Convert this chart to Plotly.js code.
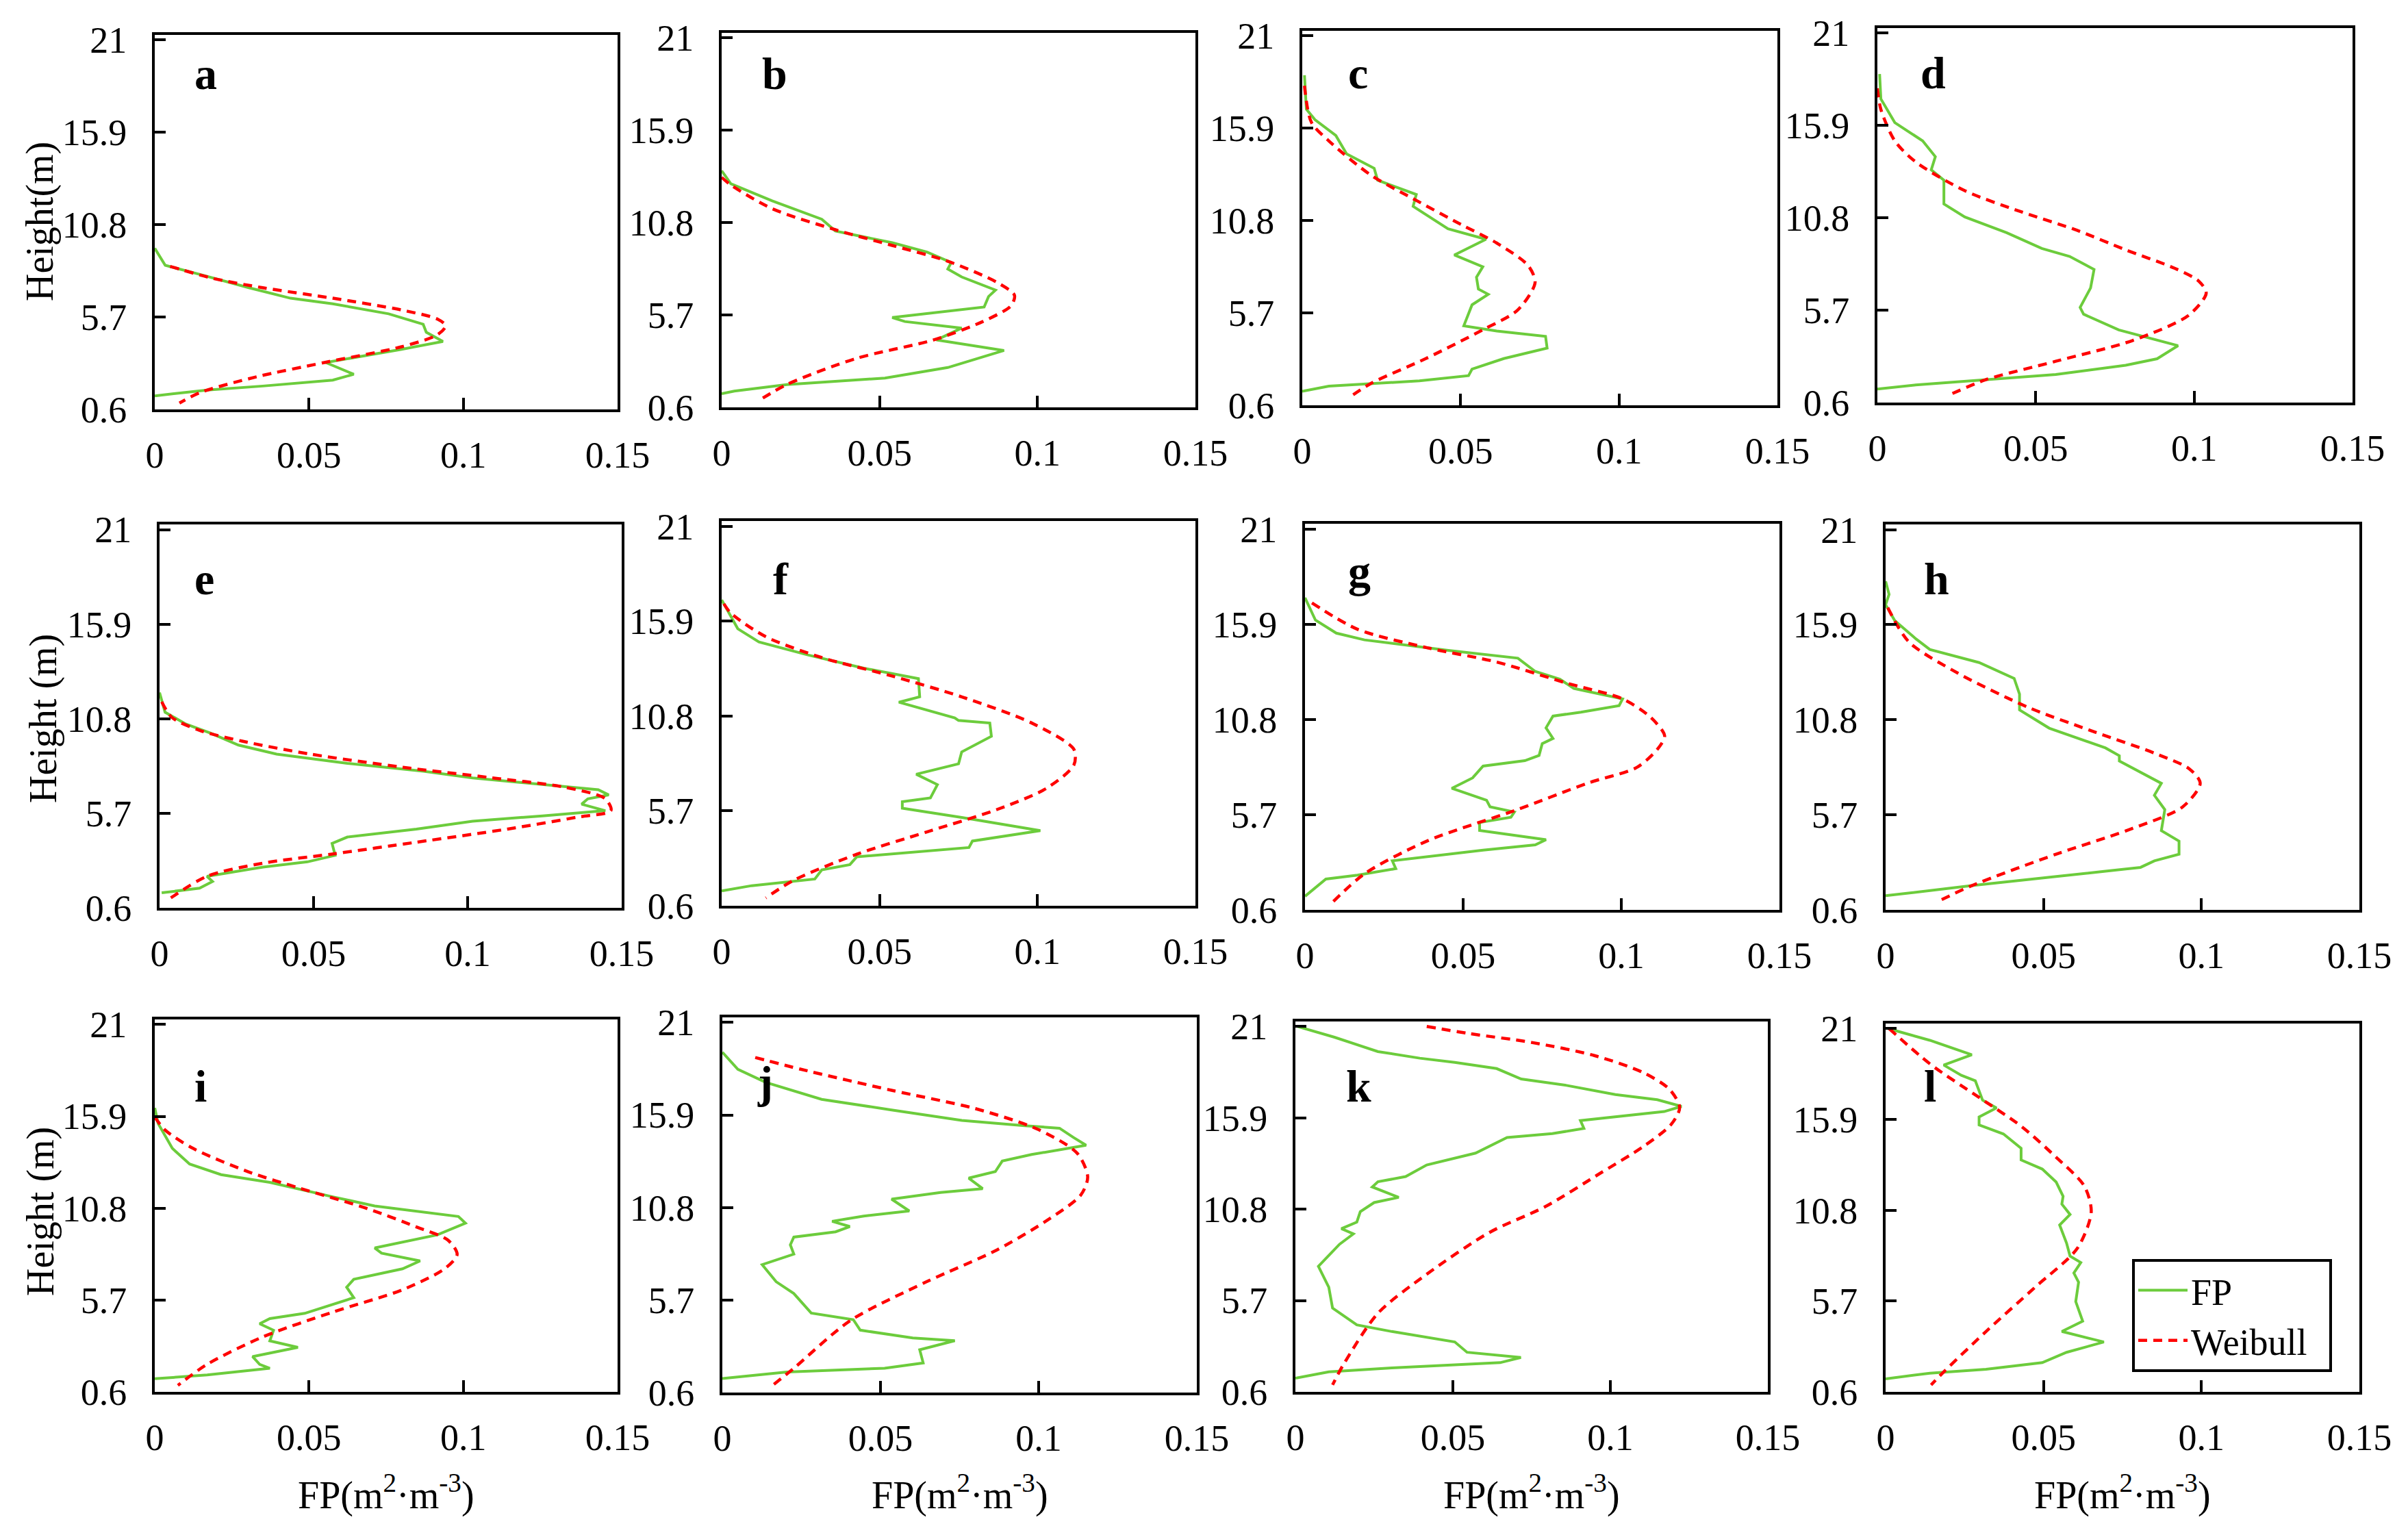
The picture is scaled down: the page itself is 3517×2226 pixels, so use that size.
<!DOCTYPE html>
<html>
<head>
<meta charset="utf-8">
<script src="https://cdn.plot.ly/plotly-3.0.1.min.js"></script>
<style>
  html, body { margin: 0; padding: 0; background: #fff; }
  #chart { width: 3517px; height: 2226px; }
</style>
</head>
<body>
<div id="chart"></div>
<script>
const heightTicks = [0.6, 5.7, 10.8, 15.9, 21];
const fpTicks = [0, 0.05, 0.1, 0.15];
const panelLetters = ["a", "b", "c", "d", "e", "f", "g", "h", "i", "j", "k", "l"];
const seriesNames = ["FP", "Weibull"];

// FP profiles (green) and Weibull fits (red), top to bottom
const fpA_x = [0, 0.0034, 0.0147, 0.0305, 0.044, 0.0577, 0.0758, 0.087, 0.088, 0.0934, 0.080, 0.0554, 0.0645, 0.0577, 0.035, 0.017, 0];
const fpA_y = [9.5, 8.56, 8.05, 7.32, 6.74, 6.43, 5.88, 5.3, 4.86, 4.35, 3.92, 3.19, 2.54, 2.22, 1.89, 1.67, 1.35];
const wbA_x = [0.005, 0.019, 0.035, 0.0577, 0.080, 0.0916, 0.0943, 0.0916, 0.080, 0.055, 0.033, 0.0147, 0.008];
const wbA_y = [8.5, 7.83, 7.32, 6.74, 6.09, 5.59, 5.22, 4.72, 4.06, 3.19, 2.4, 1.53, 0.95];

const fpB_x = [0, 0.0029, 0.016, 0.0317, 0.036, 0.054, 0.065, 0.0727, 0.0716, 0.076, 0.0867, 0.0845, 0.0831, 0.0716, 0.054, 0.058, 0.076, 0.068, 0.0894, 0.0716, 0.0517, 0.0206, 0.004, 0];
const fpB_y = [13.67, 12.95, 12.0, 10.99, 10.34, 9.69, 9.18, 8.6, 8.24, 7.8, 7.08, 6.72, 6.14, 5.92, 5.56, 5.34, 4.98, 4.32, 3.74, 2.8, 2.22, 1.86, 1.5, 1.35];
const wbB_x = [0, 0.0029, 0.016, 0.036, 0.054, 0.0716, 0.0871, 0.0927, 0.0916, 0.0827, 0.067, 0.0428, 0.0206, 0.0122];
const wbB_y = [13.3, 12.88, 11.57, 10.41, 9.54, 8.67, 7.51, 6.79, 6.21, 5.34, 4.32, 3.31, 1.86, 1.02];

const fpC_x = [0.0007, 0.0013, 0.004, 0.0106, 0.014, 0.0227, 0.0238, 0.036, 0.035, 0.046, 0.058, 0.048, 0.057, 0.055, 0.0556, 0.0587, 0.0536, 0.051, 0.0614, 0.0768, 0.0773, 0.0636, 0.0536, 0.0525, 0.037, 0.0084, 0];
const fpC_y = [18.83, 16.95, 16.37, 15.5, 14.48, 13.69, 13.03, 12.24, 11.59, 10.35, 9.77, 8.9, 8.25, 7.67, 7.02, 6.73, 6.15, 4.99, 4.7, 4.41, 3.76, 3.18, 2.6, 2.24, 1.95, 1.66, 1.37];
const wbC_x = [0.0007, 0.0029, 0.0084, 0.0216, 0.0349, 0.0503, 0.0614, 0.0713, 0.0735, 0.068, 0.057, 0.039, 0.0216, 0.0146];
const wbC_y = [18.25, 16.22, 15.2, 13.32, 12.02, 10.57, 9.56, 8.32, 7.38, 5.86, 4.77, 3.18, 1.8, 1.0];

const fpD_x = [0.0007, 0.0011, 0.0055, 0.0143, 0.0183, 0.017, 0.021, 0.021, 0.0276, 0.0408, 0.0519, 0.0607, 0.0684, 0.0673, 0.064, 0.0651, 0.0762, 0.0872, 0.0949, 0.0883, 0.0784, 0.0563, 0.0342, 0.0121, 0];
const fpD_y = [18.74, 17.37, 16.06, 15.05, 14.18, 13.45, 12.88, 11.57, 10.85, 9.98, 9.11, 8.67, 7.95, 6.93, 5.85, 5.48, 4.61, 4.11, 3.74, 3.02, 2.66, 2.15, 1.86, 1.57, 1.35];
const wbD_x = [0, 0.0011, 0.0055, 0.0121, 0.0276, 0.0453, 0.0629, 0.0784, 0.0938, 0.1015, 0.1038, 0.0982, 0.0806, 0.0563, 0.0342, 0.0227];
const wbD_y = [17.95, 16.79, 15.05, 13.89, 12.3, 11.14, 10.12, 9.03, 8.02, 7.3, 6.64, 5.41, 4.03, 2.88, 1.86, 1.02];

const fpE_x = [0, 0.0018, 0.0086, 0.0166, 0.0256, 0.038, 0.061, 0.0857, 0.1016, 0.1243, 0.1424, 0.1458, 0.139, 0.137, 0.1447, 0.1243, 0.1016, 0.0834, 0.061, 0.056, 0.057, 0.048, 0.0336, 0.0154, 0.0172, 0.013, 0.0007];
const fpE_y = [12.21, 11.15, 10.51, 10.02, 9.38, 8.89, 8.39, 7.97, 7.61, 7.26, 6.97, 6.69, 6.48, 6.19, 5.84, 5.56, 5.27, 4.85, 4.42, 4.07, 3.43, 3.08, 2.8, 2.3, 2.02, 1.66, 1.41];
const wbE_x = [0.0007, 0.004, 0.0132, 0.0268, 0.049, 0.079, 0.108, 0.131, 0.1447, 0.1465, 0.1356, 0.113, 0.0834, 0.056, 0.0336, 0.0154, 0.0023];
const wbE_y = [11.72, 10.87, 10.16, 9.59, 8.89, 8.18, 7.61, 7.12, 6.48, 5.84, 5.49, 4.85, 4.14, 3.5, 3.01, 2.3, 0.98];

const fpF_x = [0, 0.0051, 0.0118, 0.0273, 0.045, 0.0623, 0.0627, 0.0561, 0.0738, 0.075, 0.0849, 0.0854, 0.076, 0.075, 0.0616, 0.0683, 0.0661, 0.0572, 0.0572, 0.076, 0.1009, 0.0794, 0.0783, 0.0428, 0.0406, 0.0317, 0.0295, 0.0095, 0];
const fpF_y = [17.04, 15.49, 14.78, 14.08, 13.37, 12.81, 11.83, 11.54, 10.7, 10.56, 10.42, 9.71, 8.87, 8.23, 7.67, 7.11, 6.4, 6.19, 5.84, 5.35, 4.64, 4.08, 3.73, 3.23, 2.81, 2.53, 2.04, 1.68, 1.4];
const wbF_x = [0.0007, 0.0029, 0.014, 0.0317, 0.0539, 0.076, 0.0982, 0.1115, 0.1115, 0.1027, 0.0871, 0.065, 0.0428, 0.0228, 0.014];
const wbF_y = [16.83, 16.33, 15.06, 13.94, 12.95, 11.83, 10.42, 9.01, 8.16, 6.9, 5.77, 4.57, 3.37, 1.97, 1.02];

const fpG_x = [0, 0.0033, 0.0099, 0.0188, 0.0453, 0.0673, 0.0728, 0.0806, 0.085, 0.1004, 0.0993, 0.0872, 0.0784, 0.0762, 0.0784, 0.075, 0.074, 0.0695, 0.0563, 0.053, 0.0464, 0.0574, 0.0585, 0.0662, 0.0651, 0.0552, 0.0552, 0.0762, 0.0728, 0.0563, 0.0276, 0.0287, 0.0166, 0.0066, 0];
const fpG_y = [17.32, 16.12, 15.42, 15.06, 14.5, 14.08, 13.37, 12.95, 12.46, 11.9, 11.54, 11.19, 10.98, 10.35, 9.78, 9.5, 8.87, 8.59, 8.3, 7.67, 7.11, 6.47, 6.12, 5.84, 5.56, 5.28, 4.85, 4.36, 4.08, 3.8, 3.23, 2.81, 2.46, 2.25, 1.33];
const wbG_x = [0.0022, 0.0166, 0.0386, 0.0607, 0.0828, 0.1004, 0.1093, 0.1137, 0.1115, 0.1049, 0.0894, 0.0673, 0.0386, 0.0188, 0.0088];
const wbG_y = [17.04, 15.63, 14.64, 13.87, 12.74, 11.9, 10.91, 9.92, 9.22, 8.23, 7.39, 5.98, 4.29, 2.53, 1.02];

const fpH_x = [0, 0.0011, 0, 0.0029, 0.0096, 0.014, 0.0296, 0.0407, 0.0424, 0.0424, 0.0518, 0.0696, 0.074, 0.074, 0.0873, 0.0851, 0.0884, 0.0873, 0.0929, 0.0929, 0.0851, 0.0807, 0.054, 0.0273, 0];
const fpH_y = [18.23, 17.53, 16.97, 16.12, 15.14, 14.57, 13.87, 13.02, 12.18, 11.33, 10.35, 9.29, 8.87, 8.59, 7.39, 6.75, 5.98, 4.85, 4.29, 3.59, 3.23, 2.88, 2.39, 1.9, 1.36];
const wbH_x = [0.0007, 0.0073, 0.0229, 0.0451, 0.0651, 0.0851, 0.0962, 0.0996, 0.094, 0.0762, 0.054, 0.0273, 0.0162];
const wbH_y = [16.82, 14.99, 13.3, 11.47, 10.21, 9.01, 8.16, 7.39, 6.12, 4.85, 3.59, 1.9, 1.02];

const fpI_x = [0, 0.0011, 0.0057, 0.0113, 0.0215, 0.0373, 0.0577, 0.0713, 0.0984, 0.1007, 0.0916, 0.0713, 0.0735, 0.086, 0.0803, 0.0645, 0.0622, 0.0645, 0.0486, 0.0373, 0.034, 0.0385, 0.0373, 0.0464, 0.0317, 0.034, 0.0373, 0.017, 0];
const fpI_y = [16.37, 15.5, 14.12, 13.25, 12.66, 12.23, 11.43, 10.92, 10.34, 9.97, 9.32, 8.59, 8.3, 7.87, 7.43, 6.85, 6.41, 5.83, 4.96, 4.67, 4.38, 4.02, 3.43, 3.07, 2.56, 2.13, 1.91, 1.54, 1.33];
const wbI_x = [0, 0.0034, 0.0124, 0.0305, 0.0464, 0.069, 0.0848, 0.095, 0.098, 0.0939, 0.0803, 0.0577, 0.035, 0.017, 0.0075];
const wbI_y = [15.86, 15.13, 14.12, 12.81, 11.94, 10.77, 9.76, 9.03, 8.23, 7.43, 6.27, 5.03, 3.65, 2.13, 0.96];

const fpJ_x = [0, 0.0049, 0.0137, 0.0314, 0.0535, 0.0757, 0.0956, 0.1066, 0.111, 0.115, 0.0978, 0.0885, 0.0863, 0.0779, 0.0823, 0.069, 0.0535, 0.0591, 0.0447, 0.0347, 0.0403, 0.0358, 0.0226, 0.0215, 0.0226, 0.0126, 0.017, 0.0226, 0.0281, 0.0414, 0.0436, 0.0602, 0.0735, 0.0624, 0.0635, 0.0513, 0.0204, 0];
const fpJ_y = [19.36, 18.42, 17.7, 16.76, 16.18, 15.6, 15.31, 15.17, 14.66, 14.23, 13.72, 13.36, 12.78, 12.42, 11.84, 11.63, 11.26, 10.61, 10.33, 10.04, 9.75, 9.46, 9.17, 8.74, 8.23, 7.65, 6.71, 6.06, 4.98, 4.62, 4.04, 3.61, 3.46, 2.96, 2.23, 1.94, 1.73, 1.37];
const wbJ_x = [0.0104, 0.0248, 0.0535, 0.08, 0.1, 0.1122, 0.1155, 0.1133, 0.1022, 0.0867, 0.0646, 0.0403, 0.0226, 0.0159];
const wbJ_y = [19.07, 18.42, 17.26, 16.25, 15.09, 13.79, 12.49, 11.48, 10.04, 8.45, 6.71, 4.55, 1.94, 1.0];

const fpK_x = [0.0007, 0.0124, 0.0262, 0.0395, 0.0506, 0.0639, 0.0717, 0.0861, 0.1016, 0.1149, 0.1226, 0.1171, 0.0905, 0.0916, 0.0816, 0.0672, 0.0572, 0.0417, 0.035, 0.0262, 0.0244, 0.0328, 0.025, 0.0206, 0.0195, 0.0146, 0.0184, 0.014, 0.0073, 0.0106, 0.0118, 0.0195, 0.0306, 0.0506, 0.0545, 0.0716, 0.065, 0.0306, 0.0106, 0];
const fpK_y = [21.0, 20.4, 19.6, 19.23, 19.0, 18.65, 18.07, 17.71, 17.2, 16.91, 16.54, 16.25, 15.75, 15.31, 15.02, 14.8, 13.93, 13.27, 12.62, 12.33, 12.04, 11.46, 11.17, 10.66, 10.08, 9.71, 9.42, 8.84, 7.61, 6.44, 5.28, 4.34, 3.97, 3.39, 2.81, 2.52, 2.23, 1.94, 1.72, 1.36];
const wbK_x = [0.0417, 0.055, 0.075, 0.0949, 0.1104, 0.1188, 0.122, 0.1193, 0.1104, 0.0971, 0.0794, 0.0616, 0.0417, 0.0262, 0.0151, 0.0118];
const wbK_y = [21.0, 20.61, 20.11, 19.38, 18.43, 17.49, 16.47, 15.53, 14.29, 12.84, 10.95, 9.5, 7.17, 4.99, 2.08, 0.99];

const fpL_x = [0.0007, 0.014, 0.0273, 0.0184, 0.024, 0.0284, 0.0307, 0.0351, 0.0296, 0.0296, 0.0373, 0.0429, 0.0429, 0.0496, 0.054, 0.0562, 0.0558, 0.0584, 0.0551, 0.0573, 0.0584, 0.0618, 0.0596, 0.0611, 0.0602, 0.0624, 0.0558, 0.0691, 0.0573, 0.0496, 0.0318, 0.014, 0];
const fpL_y = [21.0, 20.34, 19.53, 18.95, 18.37, 18.07, 16.98, 16.54, 16.03, 15.59, 15.08, 14.28, 13.62, 13.11, 12.38, 11.58, 11.14, 10.56, 9.97, 8.95, 8.22, 7.86, 7.27, 6.76, 5.67, 4.57, 3.99, 3.4, 2.82, 2.24, 1.87, 1.65, 1.33];
const wbL_x = [0.0011, 0.014, 0.0296, 0.0429, 0.054, 0.0629, 0.0651, 0.0607, 0.0473, 0.0318, 0.0184, 0.0144];
const wbL_y = [21.0, 19.02, 17.13, 15.52, 13.77, 12.16, 10.7, 8.66, 6.47, 3.99, 1.72, 0.99];

const fpSeries = [[fpA_x, fpA_y], [fpB_x, fpB_y], [fpC_x, fpC_y], [fpD_x, fpD_y], [fpE_x, fpE_y], [fpF_x, fpF_y],
                  [fpG_x, fpG_y], [fpH_x, fpH_y], [fpI_x, fpI_y], [fpJ_x, fpJ_y], [fpK_x, fpK_y], [fpL_x, fpL_y]];
const wbSeries = [[wbA_x, wbA_y], [wbB_x, wbB_y], [wbC_x, wbC_y], [wbD_x, wbD_y], [wbE_x, wbE_y], [wbF_x, wbF_y],
                  [wbG_x, wbG_y], [wbH_x, wbH_y], [wbI_x, wbI_y], [wbJ_x, wbJ_y], [wbK_x, wbK_y], [wbL_x, wbL_y]];

(function () {
  const W = 3517, H = 2226;
  const FONT = "Liberation Serif";
  const GREEN = "#6ccc3c";
  const RED = "#ff0000";

  // panel boxes in pixels: [left, right, top, bottom]
  const boxes = [
    [226, 902, 51, 598], [1054, 1746, 48, 595], [1902, 2596, 45, 592], [2742, 3436, 41, 588],
    [233, 908, 766, 1326], [1054, 1746, 761, 1323], [1906, 2599, 765, 1329], [2754, 3446, 766, 1329],
    [226, 902, 1489, 2033], [1055, 1748, 1486, 2034], [1892, 2582, 1492, 2033], [2754, 3446, 1495, 2033],
  ];
  // letter positions: [left px, middle px]
  const letterPos = [
    [282, 107], [1111, 108], [1967, 106], [2803, 106],
    [282, 845], [1127, 845], [1967, 835], [2808, 845],
    [282, 1586], [1104, 1580], [1964, 1586], [2808, 1586],
  ];

  const px = (x) => x / W;
  const py = (y) => 1 - y / H;

  const traces = [];
  const layout = {
    width: W,
    height: H,
    margin: { l: 0, r: 0, t: 0, b: 0 },
    paper_bgcolor: "#fff",
    plot_bgcolor: "#fff",
    font: { family: FONT, size: 54, color: "#000" },
    showlegend: true,
    legend: {
      x: px(3114), y: py(1839), xanchor: "left", yanchor: "top",
      bgcolor: "#fff", bordercolor: "#000", borderwidth: 4,
      font: { family: FONT, size: 54, color: "#000" },
      itemwidth: 72, tracegroupgap: 0,
    },
    annotations: [],
  };

  boxes.forEach((b, i) => {
    const n = i === 0 ? "" : String(i + 1);
    const xa = "x" + n, ya = "y" + n;
    traces.push({
      x: fpSeries[i][0], y: fpSeries[i][1], xaxis: xa, yaxis: ya,
      type: "scatter", mode: "lines", name: seriesNames[0],
      line: { color: GREEN, width: 4 }, showlegend: i === 11,
    });
    traces.push({
      x: wbSeries[i][0], y: wbSeries[i][1], xaxis: xa, yaxis: ya,
      type: "scatter", mode: "lines", name: seriesNames[1] + "\u00a0\u00a0",
      line: { color: RED, width: 4.5, dash: "13px,9px", shape: "spline", smoothing: 0.8 },
      showlegend: i === 11,
    });
    layout["xaxis" + n] = {
      domain: [px(b[0]), px(b[1])], anchor: ya, range: [0, 0.15],
      tickvals: fpTicks, ticks: "inside", ticklen: 17, tickwidth: 4, tickcolor: "#000",
      showline: true, mirror: true, linewidth: 4, linecolor: "#000",
      showgrid: false, zeroline: false, ticklabelstandoff: 16,
      tickfont: { family: FONT, size: 54, color: "#000" },
    };
    layout["yaxis" + n] = {
      domain: [py(b[3]), py(b[2])], anchor: xa, range: [0.6, 21.28],
      tickvals: heightTicks, ticks: "inside", ticklen: 16, tickwidth: 4, tickcolor: "#000",
      showline: true, mirror: true, linewidth: 4, linecolor: "#000",
      showgrid: false, zeroline: false, ticklabelstandoff: 26,
      tickfont: { family: FONT, size: 54, color: "#000" },
    };
    layout.annotations.push({
      xref: "paper", yref: "paper", x: px(letterPos[i][0]), y: py(letterPos[i][1]),
      xanchor: "left", yanchor: "middle", showarrow: false,
      text: "<b>" + panelLetters[i] + "</b>",
      font: { family: FONT, size: 66, color: "#000" },
    });
    if (i >= 8) {
      layout.annotations.push({
        xref: "paper", yref: "paper", x: px((b[0] + b[1]) / 2), y: py(2180),
        xanchor: "center", yanchor: "middle", showarrow: false,
        text: "FP(m<sup>2</sup>·m<sup>-3</sup>)",
        font: { family: FONT, size: 56, color: "#000" },
      });
    }
  });

  const yTitles = [["Height(m)", 324, 59], ["Height (m)", 1050, 63], ["Height (m)", 1770, 59]];
  yTitles.forEach(([text, yc, xc]) => {
    layout.annotations.push({
      xref: "paper", yref: "paper", x: px(xc), y: py(yc),
      xanchor: "center", yanchor: "middle", showarrow: false, textangle: -90,
      text: text, font: { family: FONT, size: 56, color: "#000" },
    });
  });

  Plotly.newPlot("chart", traces, layout, { displayModeBar: false, staticPlot: true });
})();
</script>
</body>
</html>
